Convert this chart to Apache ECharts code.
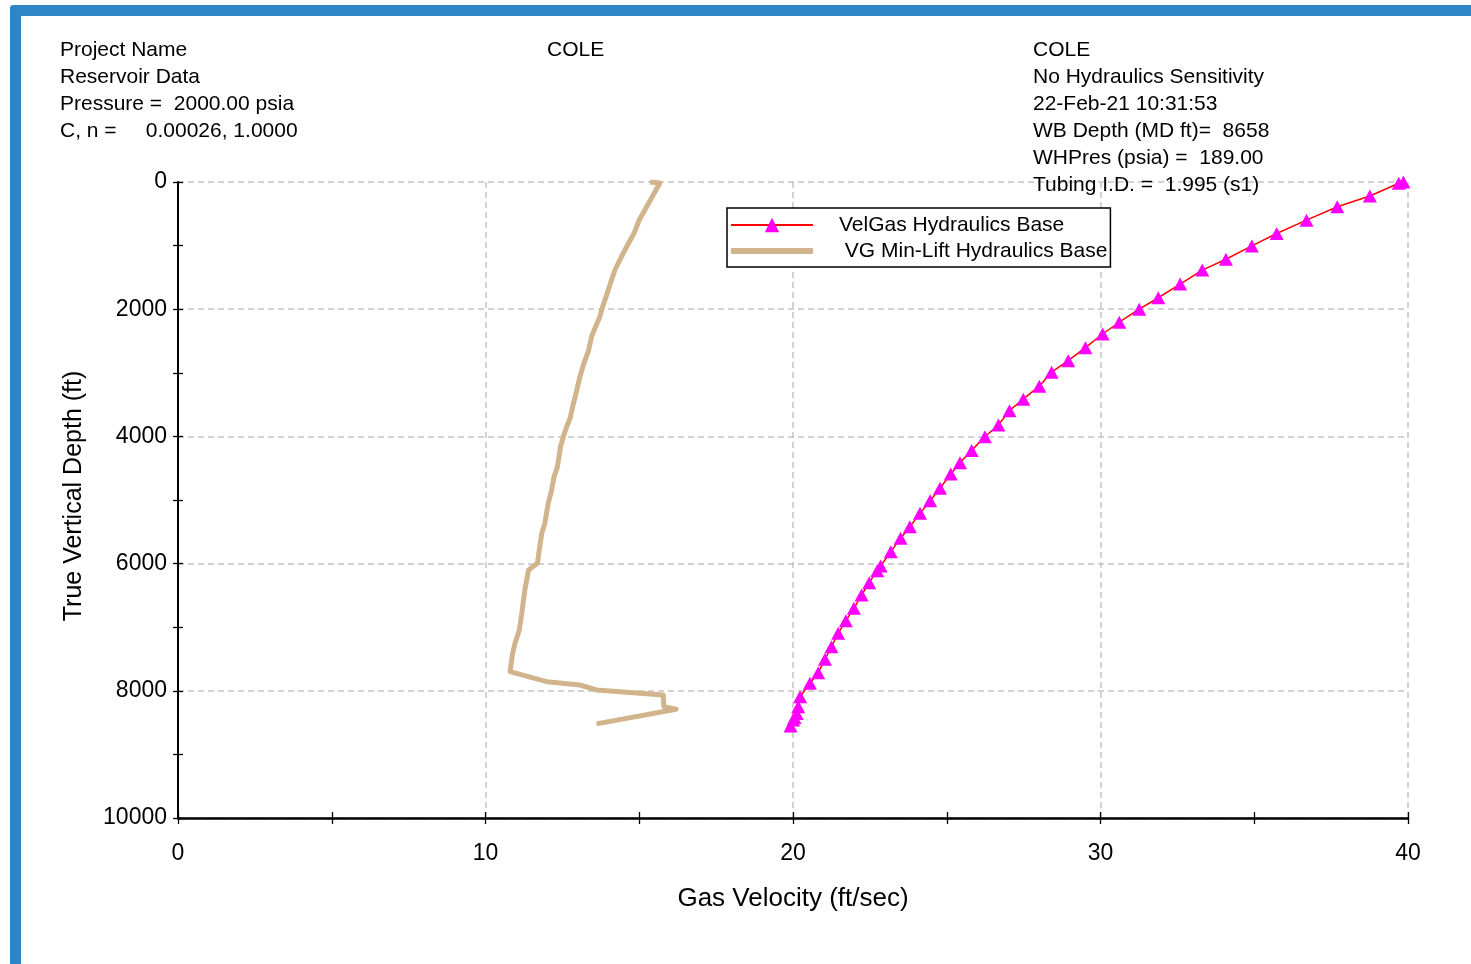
<!DOCTYPE html>
<html>
<head>
<meta charset="utf-8">
<script src="https://cdn.jsdelivr.net/npm/echarts@6/dist/echarts.min.js"></script>
<style>
  html, body { margin: 0; padding: 0; background: #ffffff; }
  #frame { position: absolute; left: 10px; top: 5px; width: 1461px; height: 959px;
           border-left: 11px solid #2f86c6; border-top: 11px solid #2f86c6;
           border-top-left-radius: 4px; box-sizing: border-box; background: #fff; }
  #chart { position: absolute; left: 0; top: 0; width: 1471px; height: 964px; }
</style>
</head>
<body>
<div id="frame"></div>
<div id="chart"></div>
<script>
// ---- data (velocity ft/sec, true vertical depth ft) ----
const velGasVelocity = [39.85, 39.7, 38.76, 37.7, 36.7, 35.73, 34.92, 34.08, 33.31, 32.59, 31.88, 31.26, 30.61, 30.07, 29.51, 28.95, 28.41, 28.01, 27.49, 27.04, 26.68, 26.24, 25.81, 25.43, 25.13, 24.78, 24.46, 24.13, 23.8, 23.5, 23.18, 22.85, 22.74, 22.48, 22.23, 21.98, 21.72, 21.47, 21.25, 21.04, 20.82, 20.55, 20.23, 20.17, 20.12, 20.05, 20.01, 19.92];
const velGasDepth    = [0, 20, 220, 390, 600, 810, 1005, 1215, 1385, 1605, 1820, 2000, 2205, 2390, 2605, 2810, 2990, 3210, 3415, 3595, 3820, 4005, 4220, 4413, 4591, 4816, 5011, 5210, 5420, 5602, 5812, 6038, 6111, 6300, 6494, 6703, 6898, 7096, 7307, 7505, 7715, 7882, 8093, 8250, 8355, 8420, 8459, 8553];

const minLiftVelocity = [15.35, 15.67, 15.24, 15.0, 14.83, 14.59, 14.37, 14.21, 14.08, 13.94, 13.81, 13.72, 13.58, 13.45, 13.34, 13.2, 13.07, 12.97, 12.86, 12.75, 12.64, 12.53, 12.44, 12.34, 12.23, 12.15, 12.04, 11.93, 11.83, 11.75, 11.69, 11.4, 11.28, 11.18, 11.1, 10.96, 10.88, 10.8, 11.99, 13.07, 13.61, 15.78, 15.8, 16.2, 13.61];
const minLiftDepth    = [0, 15, 390, 597, 807, 1017, 1226, 1384, 1567, 1777, 1960, 2118, 2275, 2432, 2668, 2851, 3061, 3270, 3480, 3715, 3847, 4005, 4162, 4476, 4633, 4843, 5052, 5366, 5524, 5786, 5996, 6101, 6415, 6781, 7044, 7254, 7411, 7699, 7856, 7909, 7987, 8066, 8250, 8290, 8520];

const seriesNames = ['VelGas Hydraulics Base', ' VG Min-Lift Hydraulics Base'];
const xTicks = { min: 0, max: 40, interval: 10 };
const yTicks = { min: 0, max: 10000, interval: 2000 };

const headerLeft = ['Project Name', 'Reservoir Data', 'Pressure =  2000.00 psia', 'C, n =     0.00026, 1.0000'];
const headerMid = ['COLE'];
const headerRight = ['COLE', 'No Hydraulics Sensitivity', '22-Feb-21 10:31:53', 'WB Depth (MD ft)=  8658', 'WHPres (psia) =  189.00', 'Tubing I.D. =  1.995 (s1)'];
const xTitle = 'Gas Velocity (ft/sec)';
const yTitle = 'True Vertical Depth (ft)';

// ---- chart ----
const FONT = '"Liberation Sans", Arial, Helvetica, sans-serif';
const zip = (a, b) => a.map((v, i) => [v, b[i]]);
const gridLine = { show: true, lineStyle: { color: '#c4c4c4', type: [6, 4], width: 1.5 } };
const GRID = { left: 178, top: 182, right: 63, bottom: 146, containLabel: false };

const headerStyle = { fontFamily: FONT, fontSize: 21, fontWeight: 'normal', color: '#000', lineHeight: 27 };
const tickStyle = { color: '#000', width: 1.3 };

const chart = echarts.init(document.getElementById('chart'), null, { renderer: 'canvas' });
chart.setOption({
  backgroundColor: 'transparent',
  animation: false,
  title: [
    { text: headerLeft.join('\n'), left: 60, top: 37, padding: 0, textStyle: headerStyle },
    { text: headerMid.join('\n'), left: 547, top: 37, padding: 0, textStyle: headerStyle },
    { text: headerRight.join('\n'), left: 1033, top: 37, padding: 0, textStyle: headerStyle }
  ],
  legend: {
    orient: 'vertical',
    left: 727, top: 208,
    padding: [6, 3, 5, 3],
    itemGap: 4,
    itemWidth: 82, itemHeight: 18,
    borderColor: '#000', borderWidth: 1.5,
    backgroundColor: '#fff',
    textStyle: { fontFamily: FONT, fontSize: 21, color: '#000', lineHeight: 22, padding: [0, 0, 0, 21] },
    data: [
      { name: seriesNames[0] },
      { name: seriesNames[1], icon: 'path://M0,0 L82,0 L82,6 L0,6 Z', itemStyle: { color: '#d2b48c' } }
    ]
  },
  // grid 0 carries the data; grid 1 (same rectangle) only adds the outward half of each tick
  grid: [Object.assign({}, GRID), Object.assign({}, GRID)],
  xAxis: [
    {
      gridIndex: 0, type: 'value', position: 'bottom',
      min: xTicks.min, max: xTicks.max, interval: xTicks.interval,
      name: xTitle, nameLocation: 'middle', nameGap: 68,
      nameTextStyle: { fontFamily: FONT, fontSize: 26, color: '#000' },
      axisLine: { show: true, onZero: false, lineStyle: { color: '#000', width: 2.5 } },
      axisTick: { show: true, inside: true, length: 6, lineStyle: tickStyle },
      minorTick: { show: true, splitNumber: 2, length: 6, lineStyle: tickStyle },
      axisLabel: { margin: 24, fontFamily: FONT, fontSize: 23, color: '#000', formatter: v => String(v) },
      splitLine: gridLine
    },
    {
      gridIndex: 1, type: 'value', position: 'bottom',
      min: xTicks.min, max: xTicks.max, interval: xTicks.interval,
      axisLine: { show: false, onZero: false },
      axisTick: { show: true, inside: false, length: 6, lineStyle: tickStyle },
      minorTick: { show: true, splitNumber: 2, length: 6, lineStyle: tickStyle },
      axisLabel: { show: false },
      splitLine: { show: false }
    }
  ],
  yAxis: [
    {
      gridIndex: 0, type: 'value', position: 'left', inverse: true,
      min: yTicks.min, max: yTicks.max, interval: yTicks.interval,
      name: yTitle, nameLocation: 'middle', nameGap: 91,
      nameTextStyle: { fontFamily: FONT, fontSize: 25, color: '#000', padding: [0, 0, 0, 8] },
      axisLine: { show: true, onZero: false, lineStyle: { color: '#000', width: 2 } },
      axisTick: { show: true, inside: true, length: 5, lineStyle: tickStyle },
      minorTick: { show: true, splitNumber: 2, length: 5, lineStyle: tickStyle },
      axisLabel: { margin: 11, fontFamily: FONT, fontSize: 23, color: '#000', formatter: v => String(v) },
      splitLine: gridLine
    },
    {
      gridIndex: 1, type: 'value', position: 'left', inverse: true,
      min: yTicks.min, max: yTicks.max, interval: yTicks.interval,
      axisLine: { show: false, onZero: false },
      axisTick: { show: true, inside: false, length: 5, lineStyle: tickStyle },
      minorTick: { show: true, splitNumber: 2, length: 5, lineStyle: tickStyle },
      axisLabel: { show: false },
      splitLine: { show: false }
    }
  ],
  series: [
    {
      name: seriesNames[1], type: 'line', xAxisIndex: 0, yAxisIndex: 0,
      data: zip(minLiftVelocity, minLiftDepth),
      showSymbol: false, symbol: 'none',
      lineStyle: { color: '#d2b48c', width: 5, join: 'round' },
      itemStyle: { color: '#d2b48c' },
      z: 2
    },
    {
      name: seriesNames[0], type: 'line', xAxisIndex: 0, yAxisIndex: 0,
      data: zip(velGasVelocity, velGasDepth),
      symbol: 'triangle', symbolSize: [14, 13], showAllSymbol: true,
      lineStyle: { color: '#ff0000', width: 1.5 },
      itemStyle: { color: '#ff00ff', borderWidth: 0 },
      z: 3
    }
  ]
});
</script>
</body>
</html>
